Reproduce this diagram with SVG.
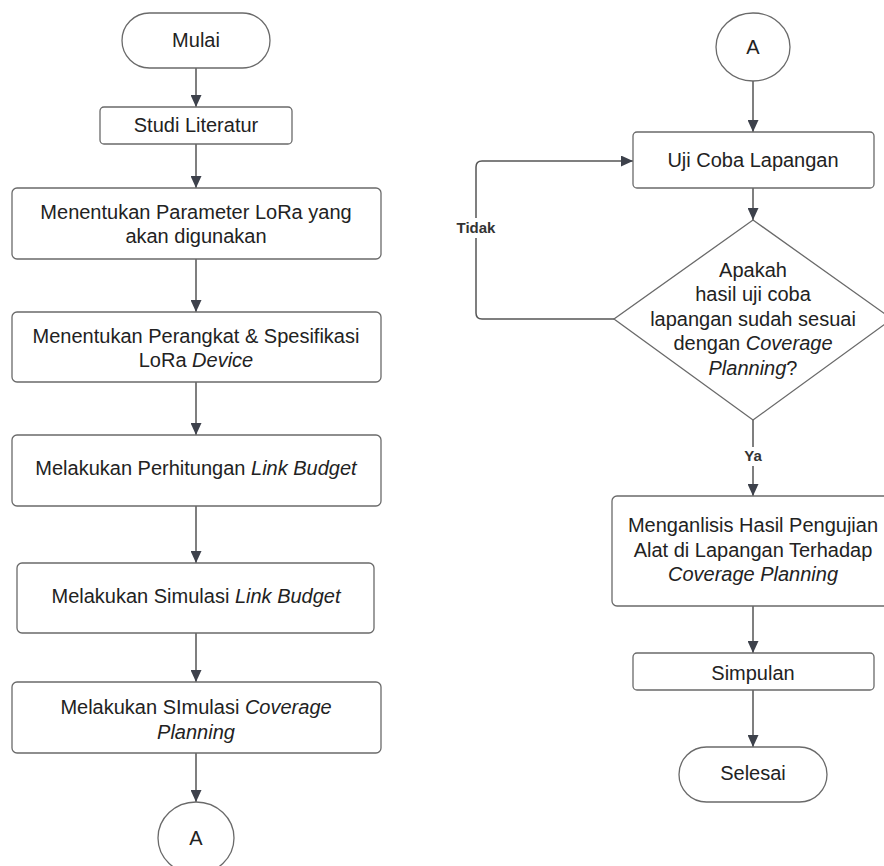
<svg xmlns="http://www.w3.org/2000/svg" width="884" height="866" viewBox="0 0 884 866">
<style>
.n{fill:#fff;stroke:#6a6a6a;stroke-width:1.3}
.t{font-family:"Liberation Sans",Arial,sans-serif;font-size:20px;fill:#222;text-anchor:middle}
.i{font-style:italic}
.c{fill:none;stroke:#555;stroke-width:1.5}
.l{font-family:"Liberation Sans",Arial,sans-serif;font-size:15px;font-weight:bold;fill:#333;text-anchor:middle}
</style>
<defs>
<marker id="ah" markerUnits="userSpaceOnUse" markerWidth="12" markerHeight="11" refX="12" refY="5.5" orient="auto">
<path d="M0,0 L12,5.5 L0,11 z" fill="#3d414b"/>
</marker>
</defs>
<rect width="884" height="866" fill="#fff"/>
<g id="connectors">
<path class="c" d="M196,68 V107" marker-end="url(#ah)"/>
<path class="c" d="M196,144 V188" marker-end="url(#ah)"/>
<path class="c" d="M196,259 V312" marker-end="url(#ah)"/>
<path class="c" d="M196,382 V435" marker-end="url(#ah)"/>
<path class="c" d="M196,506 V563" marker-end="url(#ah)"/>
<path class="c" d="M196,633 V682" marker-end="url(#ah)"/>
<path class="c" d="M196,753 V802" marker-end="url(#ah)"/>
<path class="c" d="M753,81 V132" marker-end="url(#ah)"/>
<path class="c" d="M753,188 V220" marker-end="url(#ah)"/>
<path class="c" d="M614,319 H482 Q476,319 476,313 V167 Q476,161 482,161 H633" marker-end="url(#ah)"/>
<path class="c" d="M753,420 V496" marker-end="url(#ah)"/>
<path class="c" d="M753,606 V653" marker-end="url(#ah)"/>
<path class="c" d="M753,690 V747" marker-end="url(#ah)"/>
<rect x="454" y="218" width="44" height="20" fill="#fff"/>
<text class="l" x="476" y="233">Tidak</text>
<rect x="741" y="447" width="24" height="19" fill="#fff"/>
<text class="l" x="753" y="461">Ya</text>
</g>
<g id="mulai">
<rect class="n" x="122" y="13" width="148" height="55" rx="27.5"/>
<text class="t" x="196" y="47">Mulai</text>
</g>
<g id="studi">
<rect class="n" x="100" y="107" width="192" height="37" rx="4"/>
<text class="t" x="196" y="132">Studi Literatur</text>
</g>
<g id="parameter">
<rect class="n" x="12" y="188" width="369" height="71" rx="5"/>
<text class="t" x="196" y="219">Menentukan Parameter LoRa yang</text>
<text class="t" x="196" y="243">akan digunakan</text>
</g>
<g id="perangkat">
<rect class="n" x="12" y="312" width="369" height="70" rx="5"/>
<text class="t" x="196" y="343">Menentukan Perangkat &amp; Spesifikasi</text>
<text class="t" x="196" y="367">LoRa <tspan class="i">Device</tspan></text>
</g>
<g id="perhitungan">
<rect class="n" x="12" y="435" width="369" height="71" rx="5"/>
<text class="t" x="196" y="475">Melakukan Perhitungan <tspan class="i">Link Budget</tspan></text>
</g>
<g id="simulasi-lb">
<rect class="n" x="17" y="563" width="357" height="70" rx="5"/>
<text class="t" x="196" y="603">Melakukan Simulasi <tspan class="i">Link Budget</tspan></text>
</g>
<g id="simulasi-cp">
<rect class="n" x="12" y="682" width="369" height="71" rx="5"/>
<text class="t" x="196" y="714">Melakukan SImulasi <tspan class="i">Coverage</tspan></text>
<text class="t i" x="196" y="739">Planning</text>
</g>
<g id="a-out">
<ellipse class="n" cx="196" cy="838" rx="38" ry="36"/>
<text class="t" x="196" y="845">A</text>
</g>
<g id="a-in">
<ellipse class="n" cx="753" cy="47" rx="37" ry="34"/>
<text class="t" x="753" y="54">A</text>
</g>
<g id="uji">
<rect class="n" x="633" y="132" width="241" height="56" rx="4"/>
<text class="t" x="753" y="167">Uji Coba Lapangan</text>
</g>
<g id="keputusan">
<polygon class="n" points="753,220 892,319 753,420 614,319"/>
<text class="t" x="753" y="277">Apakah</text>
<text class="t" x="753" y="301">hasil uji coba</text>
<text class="t" x="753" y="326">lapangan sudah sesuai</text>
<text class="t" x="753" y="350">dengan <tspan class="i">Coverage</tspan></text>
<text class="t" x="753" y="375"><tspan class="i">Planning</tspan>?</text>
</g>
<g id="analisis">
<rect class="n" x="612" y="496" width="282" height="110" rx="5"/>
<text class="t" x="753" y="532">Menganlisis Hasil Pengujian</text>
<text class="t" x="753" y="557">Alat di Lapangan Terhadap</text>
<text class="t i" x="753" y="581">Coverage Planning</text>
</g>
<g id="simpulan">
<rect class="n" x="633" y="653" width="241" height="37" rx="4"/>
<text class="t" x="753" y="680">Simpulan</text>
</g>
<g id="selesai">
<rect class="n" x="679" y="747" width="148" height="55" rx="27.5"/>
<text class="t" x="753" y="780">Selesai</text>
</g>
</svg>
